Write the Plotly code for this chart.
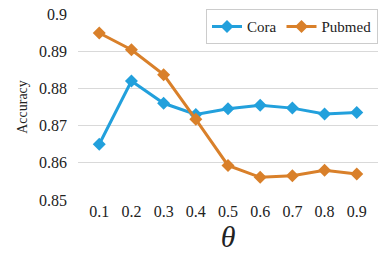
import plotly.graph_objects as go

theta = ["0.1", "0.2", "0.3", "0.4", "0.5", "0.6", "0.7", "0.8", "0.9"]
cora = [0.865, 0.882, 0.876, 0.873, 0.8745, 0.8755, 0.8747, 0.8731, 0.8735]
pubmed = [0.8949, 0.8904, 0.8837, 0.8717, 0.8593, 0.8561, 0.8565, 0.8580, 0.8570]

font = "Liberation Serif"
fig = go.Figure()
fig.add_trace(go.Scatter(x=theta, y=cora, name="Cora", mode="lines+markers",
                         line=dict(color="#22a0dc", width=3),
                         marker=dict(symbol="diamond", size=10, color="#22a0dc")))
fig.add_trace(go.Scatter(x=theta, y=pubmed, name="Pubmed", mode="lines+markers",
                         line=dict(color="#d9802a", width=3),
                         marker=dict(symbol="diamond", size=10, color="#d9802a")))
fig.update_layout(
    width=390, height=268,
    margin=dict(l=78, r=12, t=14, b=68, autoexpand=False),
    plot_bgcolor="white", paper_bgcolor="white",
    font=dict(family=font, color="#222", size=16),
    legend=dict(x=1.0, y=1.025, xanchor="right", yanchor="top", orientation="h",
                bordercolor="#cccccc", borderwidth=1, font=dict(size=15, family=font),
                bgcolor="white", tracegroupgap=0, itemwidth=30),
    xaxis=dict(showgrid=False, showline=False, ticks="", tickfont=dict(size=16, family=font),
               automargin=False,
               title=dict(text="<i>θ</i>", font=dict(size=30, family=font), standoff=2)),
    yaxis=dict(range=[0.85, 0.9], dtick=0.01, showgrid=True, gridcolor="#d9d9d9",
               gridwidth=1, zeroline=False, showline=False, tickfont=dict(size=16, family=font),
               automargin=False, ticklabelstandoff=10,
               title=dict(text="Accuracy", font=dict(size=14, family=font), standoff=8)),
)
fig.write_html("out.html", config={"displayModeBar": False},
               post_script="document.body.style.margin='0';")
